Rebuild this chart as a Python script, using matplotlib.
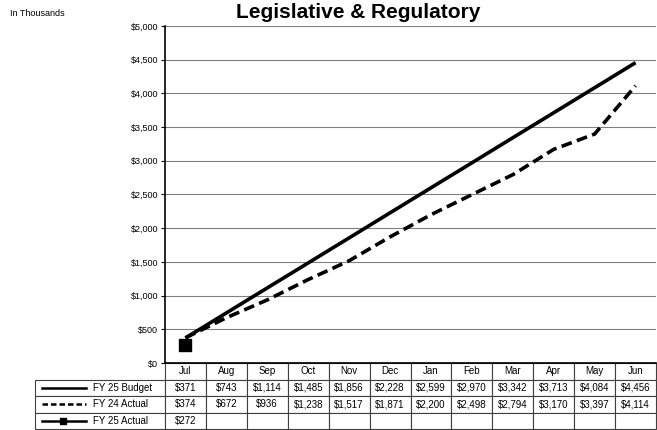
import matplotlib
matplotlib.use("Agg")
import matplotlib.pyplot as plt
from matplotlib.lines import Line2D
import numpy as np

plt.rcParams['font.family'] = ['Liberation Sans', 'DejaVu Sans']

months = ["Jul", "Aug", "Sep", "Oct", "Nov", "Dec", "Jan", "Feb", "Mar", "Apr", "May", "Jun"]
fy25_budget = [371, 743, 1114, 1485, 1856, 2228, 2599, 2970, 3342, 3713, 4084, 4456]
fy24_actual = [374, 672, 936, 1238, 1517, 1871, 2200, 2498, 2794, 3170, 3397, 4114]
fy25_actual = [272]
series_names = ["FY 25 Budget", "FY 24 Actual", "FY 25 Actual"]
yticks = list(range(0, 5001, 500))

W, H = 657, 430
fig = plt.figure(figsize=(W / 100, H / 100), dpi=100)
L, R, T, B = 165, 656, 26, 363
ax = fig.add_axes([L / W, 1 - B / H, (R - L) / W, (B - T) / H])

x = np.arange(len(months))
dash = (0, (3, 1.5))
ax.plot(x, fy25_budget, color='black', lw=2.6, solid_capstyle='butt')
ax.plot(x, fy24_actual, color='black', lw=2.6, ls=dash)
ax.plot(x[:len(fy25_actual)], fy25_actual, color='black', lw=2.6, marker='s', markersize=9)

ax.set_xlim(-0.5, len(months) - 0.5)
ax.set_ylim(0, 5000)
ax.set_yticks(yticks)
ax.set_yticklabels([f"${v:,}" for v in yticks], fontsize=6.5)
ax.tick_params(axis='y', length=3, width=0.8, pad=2)
ax.set_xticks([])
ax.grid(axis='y', color='#808080', lw=0.8)
ax.set_axisbelow(True)
for s in ['top', 'right']:
    ax.spines[s].set_visible(False)
ax.spines['left'].set_linewidth(1.2)
ax.spines['bottom'].set_linewidth(1.2)

# Table
tbl_left = 35
lab_w = L - tbl_left
col_w = (R - L) / len(months)
tot_w = R - tbl_left
cell_text = [[""] + months]
for name, vals in zip(series_names, [fy25_budget, fy24_actual, fy25_actual]):
    row = [""] + [f"${v:,}" for v in vals] + [""] * (len(months) - len(vals))
    cell_text.append(row)
ax_h = B - T
tbl_h = 430 - B - 1
tbl = ax.table(cellText=cell_text,
               colWidths=[lab_w / tot_w] + [col_w / tot_w] * len(months),
               bbox=[(tbl_left - L) / (R - L), -tbl_h / ax_h, tot_w / (R - L), tbl_h / ax_h],
               cellLoc='center')
tbl.auto_set_font_size(False)
tbl.set_fontsize(7)
for (r, c), cell in tbl.get_celld().items():
    cell.set_edgecolor('#404040')
    cell.set_linewidth(0.8)
    if r == 0 and c == 0:
        cell.set_visible(False)

# legend samples and names in row label cells
row_h = tbl_h / 4
styles = [dict(ls='-'), dict(ls=(0, (2.2, 1.2))), dict(ls='-', marker='s', markersize=4.5)]
for i, (st, name) in enumerate(zip(styles, series_names)):
    yc = 1 - (B + row_h * (i + 1.5)) / H
    ln = Line2D([42 / W, 63 / W, 86 / W], [yc, yc, yc], transform=fig.transFigure,
                color='black', lw=1.8, **st)
    if 'marker' in st:
        ln.set_markevery([1])
    fig.add_artist(ln)
    fig.text(93 / W, yc, name, ha='left', va='center', fontsize=7)

fig.text(358 / W, 1 - 3 / H, "Legislative & Regulatory", ha='center', va='top',
         fontsize=15, fontweight='bold')
fig.text(10 / W, 1 - 14 / H, "In Thousands", ha='left', va='center', fontsize=6.5)

fig.savefig("out.png", dpi=100)
